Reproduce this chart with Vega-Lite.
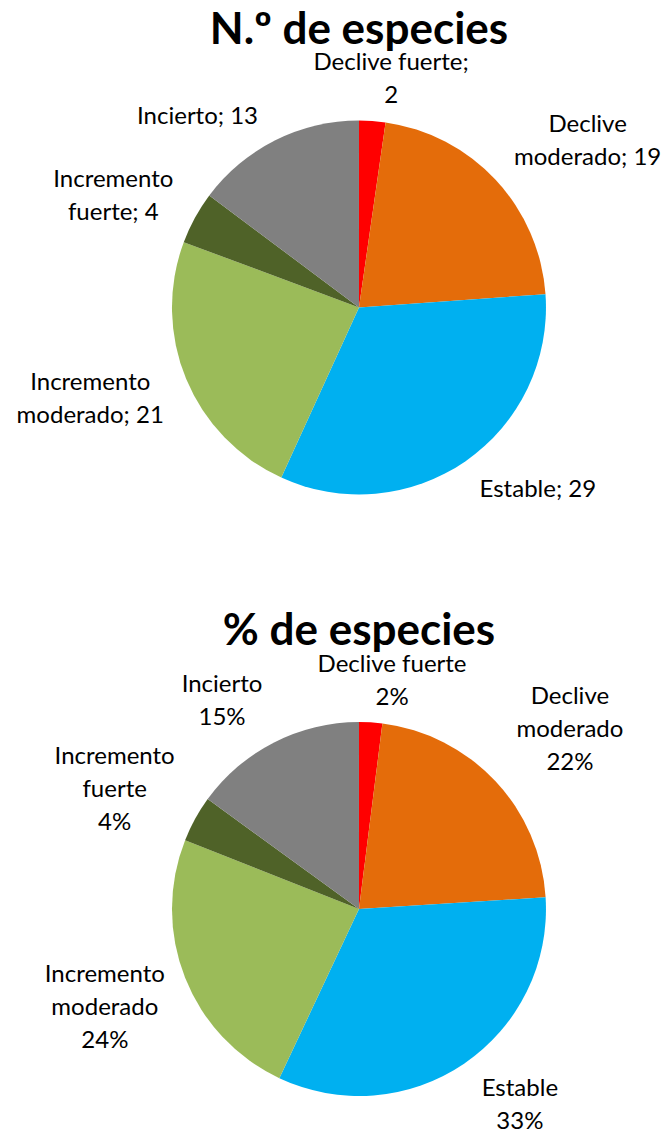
{
  "$schema": "https://vega.github.io/schema/vega-lite/v6.json",
  "width": 666,
  "height": 1133,
  "autosize": {"type": "none"},
  "padding": 0,
  "background": "white",
  "config": {"view": {"stroke": null}},
  "datasets": {
    "numero": [
      {"panel": "n", "orden": 1, "cat": "Declive fuerte", "valor": 2, "etiqueta": "Declive fuerte;\n2"},
      {"panel": "n", "orden": 2, "cat": "Declive moderado", "valor": 19, "etiqueta": "Declive\nmoderado; 19"},
      {"panel": "n", "orden": 3, "cat": "Estable", "valor": 29, "etiqueta": "Estable; 29"},
      {"panel": "n", "orden": 4, "cat": "Incremento moderado", "valor": 21, "etiqueta": "Incremento\nmoderado; 21"},
      {"panel": "n", "orden": 5, "cat": "Incremento fuerte", "valor": 4, "etiqueta": "Incremento\nfuerte; 4"},
      {"panel": "n", "orden": 6, "cat": "Incierto", "valor": 13, "etiqueta": "Incierto; 13"}
    ],
    "porcentaje": [
      {"panel": "pct", "orden": 1, "cat": "Declive fuerte", "valor": 2, "etiqueta": "Declive fuerte\n2%"},
      {"panel": "pct", "orden": 2, "cat": "Declive moderado", "valor": 22, "etiqueta": "Declive\nmoderado\n22%"},
      {"panel": "pct", "orden": 3, "cat": "Estable", "valor": 33, "etiqueta": "Estable\n33%"},
      {"panel": "pct", "orden": 4, "cat": "Incremento moderado", "valor": 24, "etiqueta": "Incremento\nmoderado\n24%"},
      {"panel": "pct", "orden": 5, "cat": "Incremento fuerte", "valor": 4, "etiqueta": "Incremento\nfuerte\n4%"},
      {"panel": "pct", "orden": 6, "cat": "Incierto", "valor": 15, "etiqueta": "Incierto\n15%"}
    ],
    "titulos": [
      {"panel": "n", "titulo": "N.º de especies"},
      {"panel": "pct", "titulo": "% de especies"}
    ]
  },
  "encoding": {
    "x": {"datum": "pie", "type": "nominal", "scale": {"type": "point", "padding": 0, "align": 0.539}, "axis": null},
    "y": {"field": "panel", "type": "nominal", "scale": {"type": "point", "domain": ["n", "pct"], "padding": 0.4418, "align": 0.5786}, "axis": null}
  },
  "layer": [
    {
      "data": {"name": "numero"},
      "mark": {"type": "arc", "radius": 187, "strokeWidth": 0},
      "encoding": {
        "theta": {"field": "valor", "type": "quantitative", "stack": true},
        "order": {"field": "orden", "type": "quantitative"},
        "color": {"field": "cat", "type": "nominal", "legend": null,
          "scale": {"domain": ["Declive fuerte", "Declive moderado", "Estable", "Incremento moderado", "Incremento fuerte", "Incierto"],
                    "range": ["#FF0000", "#E46C0A", "#00B0F0", "#9BBB59", "#4F6228", "#808080"]}}
      }
    },
    {
      "data": {"name": "numero"},
      "mark": {"type": "text", "radius": 240, "font": "Lato", "fontSize": 24, "lineHeight": 33, "lineBreak": "\n",
        "align": "center", "baseline": "middle", "color": "#000000",
        "dx": {"expr": "datum.cat==='Declive fuerte'?15:datum.cat==='Declive moderado'?53:datum.cat==='Estable'?42:datum.cat==='Incremento moderado'?-47:datum.cat==='Incremento fuerte'?-35:-54"},
        "dy": {"expr": "datum.cat==='Declive fuerte'?-5.5:datum.cat==='Declive moderado'?-18.5:datum.cat==='Estable'?-15:datum.cat==='Incremento moderado'?-16.5:datum.cat==='Incremento fuerte'?-12.5:24"}},
      "encoding": {
        "theta": {"field": "valor", "type": "quantitative", "stack": true},
        "order": {"field": "orden", "type": "quantitative"},
        "text": {"field": "etiqueta", "type": "nominal"}
      }
    },
    {
      "data": {"name": "porcentaje"},
      "mark": {"type": "arc", "radius": 187, "strokeWidth": 0},
      "encoding": {
        "theta": {"field": "valor", "type": "quantitative", "stack": true},
        "order": {"field": "orden", "type": "quantitative"},
        "color": {"field": "cat", "type": "nominal", "legend": null}
      }
    },
    {
      "data": {"name": "porcentaje"},
      "mark": {"type": "text", "radius": 240, "font": "Lato", "fontSize": 24, "lineHeight": 33, "lineBreak": "\n",
        "align": "center", "baseline": "middle", "color": "#000000",
        "dx": {"expr": "datum.cat==='Declive fuerte'?18:datum.cat==='Declive moderado'?36:datum.cat==='Estable'?26:datum.cat==='Incremento moderado'?-31:datum.cat==='Incremento fuerte'?-34:-28"},
        "dy": {"expr": "datum.cat==='Declive fuerte'?-4.5:datum.cat==='Declive moderado'?-48:datum.cat==='Estable'?-18.5:datum.cat==='Incremento moderado'?-22:datum.cat==='Incremento fuerte'?-36:-10.5"}},
      "encoding": {
        "theta": {"field": "valor", "type": "quantitative", "stack": true},
        "order": {"field": "orden", "type": "quantitative"},
        "text": {"field": "etiqueta", "type": "nominal"}
      }
    },
    {
      "data": {"name": "titulos"},
      "mark": {"type": "text", "font": "Lato", "fontSize": 44, "fontWeight": "bold", "align": "center", "baseline": "alphabetic", "dy": -264, "color": "#000000"},
      "encoding": {
        "text": {"field": "titulo", "type": "nominal"}
      }
    }
  ],
  "resolve": {"scale": {"theta": "independent"}}
}
